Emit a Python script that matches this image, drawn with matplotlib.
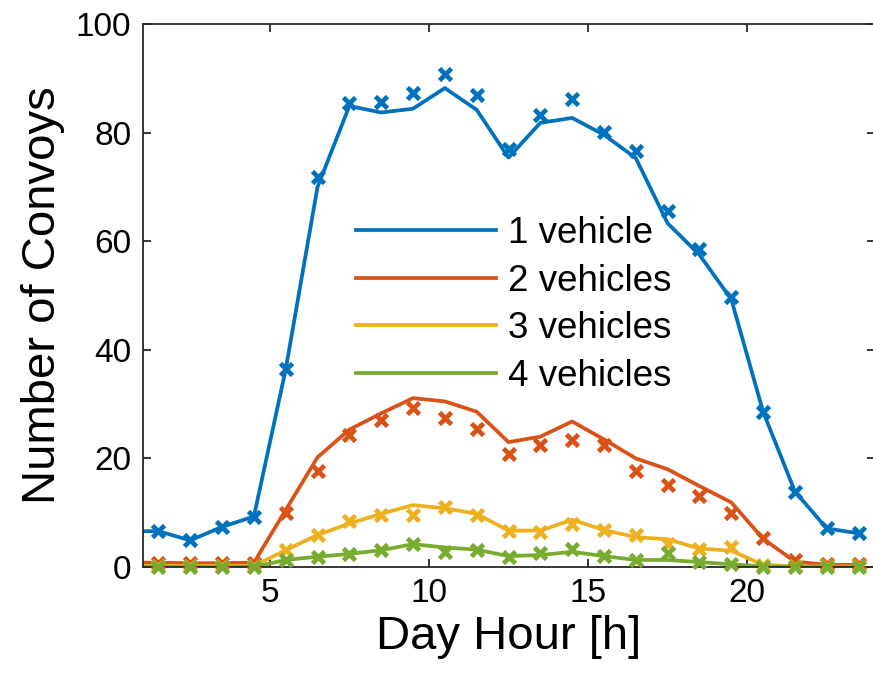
import matplotlib
matplotlib.use("Agg")
import matplotlib.pyplot as plt
import numpy as np

plt.rcParams['font.family'] = ['Liberation Sans', 'DejaVu Sans']

hours = [0.5, 1.5, 2.5, 3.5, 4.5, 5.5, 6.5, 7.5, 8.5, 9.5, 10.5, 11.5,
         12.5, 13.5, 14.5, 15.5, 16.5, 17.5, 18.5, 19.5, 20.5, 21.5, 22.5, 23.5]

# model (lines)
line_1 = [6.6, 6.6, 4.9, 7.4, 9.3, 36.4, 70.0, 84.9, 83.7, 84.4, 88.2, 84.2,
          75.4, 81.8, 82.7, 79.6, 75.3, 63.3, 57.5, 49.3, 28.6, 13.9, 7.1, 6.2]
line_2 = [0.8, 0.8, 0.7, 0.7, 0.8, 10.5, 20.2, 25.3, 28.3, 31.1, 30.5, 28.6,
          23.0, 24.0, 26.8, 23.5, 20.0, 18.0, 14.9, 11.9, 5.2, 1.0, 0.4, 0.4]
line_3 = [0.2, 0.2, 0.2, 0.2, 0.2, 3.1, 5.9, 8.0, 9.8, 11.4, 10.8, 9.8,
          6.7, 6.7, 8.7, 6.8, 5.5, 5.1, 3.4, 3.0, 0.4, 0.1, 0.1, 0.1]
line_4 = [0.0, 0.0, 0.0, 0.0, 0.0, 1.3, 1.9, 2.4, 3.1, 4.2, 3.6, 3.2,
          2.0, 2.2, 2.8, 2.0, 1.3, 1.3, 0.9, 0.5, 0.1, 0.0, 0.0, 0.0]

# measured (crosses), hours 1.5 .. 23.5
obs_hours = hours[1:]
obs_1 = [6.7, 4.9, 7.4, 9.3, 36.4, 71.8, 85.5, 85.6, 87.3, 90.7, 87.0,
         76.9, 83.3, 86.2, 80.1, 76.7, 65.5, 58.6, 49.8, 28.6, 13.9, 7.1, 6.2]
obs_2 = [0.8, 0.7, 0.7, 0.8, 9.9, 17.6, 24.3, 27.0, 29.2, 27.4, 25.4,
         20.9, 22.5, 23.3, 22.5, 17.6, 15.1, 13.0, 9.9, 5.3, 1.3, 0.5, 0.6]
obs_3 = [0.2, 0.2, 0.2, 0.2, 3.1, 5.9, 8.4, 9.6, 9.6, 11.1, 9.6,
         6.7, 6.5, 7.9, 6.8, 5.9, 4.2, 3.4, 3.7, 0.4, 0.1, 0.1, 0.1]
obs_4 = [0.0, 0.0, 0.0, 0.0, 1.3, 1.9, 2.4, 3.1, 4.2, 2.8, 3.1,
         1.9, 2.5, 3.4, 2.0, 1.3, 2.5, 0.9, 0.5, 0.0, 0.0, 0.0, 0.0]

labels = ['1 vehicle', '2 vehicles', '3 vehicles', '4 vehicles']
colors = ['#0072BD', '#D95319', '#EDB120', '#77AC30']
xticks = [5, 10, 15, 20]
yticks = [0, 20, 40, 60, 80, 100]

W, H = 873, 677
fig = plt.figure(figsize=(W / 100, H / 100), dpi=100)
ax = fig.add_axes([142.5 / W, (H - 567) / H, (874.5 - 142.5) / W, (567 - 24) / H])

lines = [line_1, line_2, line_3, line_4]
obs = [obs_1, obs_2, obs_3, obs_4]
handles = []
for ln, c, lab in zip(lines, colors, labels):
    h, = ax.plot(hours, ln, color=c, lw=2.7, label=lab, zorder=2)
    handles.append(h)
for ob, c in zip(obs, colors):
    ax.plot(obs_hours, ob, linestyle='none', marker='x', ms=8, mew=3.4,
            color=c, clip_on=False, zorder=3)

ax.set_xlim(1, 24)
ax.set_ylim(0, 100)
ax.set_xticks(xticks)
ax.set_yticks(yticks)
ax.tick_params(direction='in', length=6, width=1.3, labelsize=24,
               top=True, right=True, pad=8, color='#262626')
for s in ax.spines.values():
    s.set_linewidth(1.3)
    s.set_color('#262626')

ax.set_xlabel('Day Hour [h]', fontsize=34, labelpad=4)
ax.set_ylabel('Number of Convoys', fontsize=34, labelpad=8)

leg = fig.legend(handles=handles, loc='center left',
                 bbox_to_anchor=(356 / W, 1 - 305 / H),
                 bbox_transform=fig.transFigure, frameon=False,
                 fontsize=26.5, handlelength=3.8, handletextpad=0.33,
                 labelspacing=0.34, borderpad=0, borderaxespad=0)

fig.savefig('out.png', dpi=100)
